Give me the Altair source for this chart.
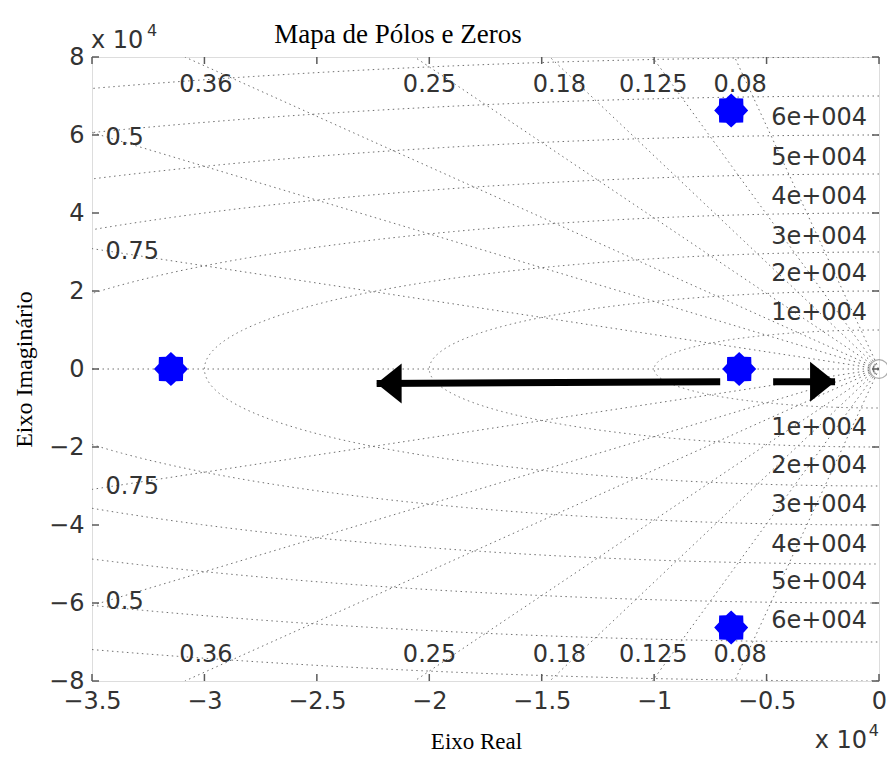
import altair as alt
import numpy as np
import pandas as pd

# ---------------- data ----------------
x_tick_vals = [-35000, -30000, -25000, -20000, -15000, -10000, -5000, 0]
y_tick_vals = [-80000, -60000, -40000, -20000, 0, 20000, 40000, 60000, 80000]

zeta_vals = [0.08, 0.125, 0.18, 0.25, 0.36, 0.5, 0.75]
wn_vals = [10000, 20000, 30000, 40000, 50000, 60000, 70000, 80000]

pole_re = [-31490, -6218, -6574, -6574]
pole_im = [0, 0, 66300, -66300]

zeta_lbl_text = ["0.36", "0.25", "0.18", "0.125", "0.08",
                 "0.36", "0.25", "0.18", "0.125", "0.08"]
zeta_lbl_x = [-29936, -19987, -14213, -10038, -6174,
              -29936, -19987, -14213, -10038, -6174]
zeta_lbl_y = [72800, 72800, 72800, 72800, 72800,
              -73300, -73300, -73300, -73300, -73300]

zeta_side_text = ["0.5", "0.75", "0.75", "0.5"]
zeta_side_x = [-34400, -34400, -34400, -34400]
zeta_side_y = [59230, 30000, -30255, -59740]

wn_lbl_text = ["6e+004", "5e+004", "4e+004", "3e+004", "2e+004", "1e+004",
               "1e+004", "2e+004", "3e+004", "4e+004", "5e+004", "6e+004"]
wn_lbl_x = [-4797] * 12
wn_lbl_y = [64360, 54100, 44100, 33845, 24360, 14360,
            -15130, -24870, -34870, -45130, -54610, -64610]

# hand-drawn arrows (start x, tip x, y at start, y at tip)
arrow_x = [-7062, -4708]
arrow_tip = [-22341, -1954]
arrow_y = [-3300, -3300]
arrow_tip_y = [-3700, -3300]

title_text = "Mapa de Pólos e Zeros"
x_title = "Eixo Real"
y_title = "Eixo Imaginário"

# ---------------- grid geometry ----------------
XMIN, XMAX, YMIN, YMAX = -35000, 0, -80000, 80000
rows = []
gid = 0
for z in zeta_vals:
    for s in (1, -1):
        dx, dy = -z, s * np.sqrt(1 - z * z)
        t = min(abs(XMIN / dx), abs(YMAX / dy))
        rows.append((gid, 0, 0.0, 0.0))
        rows.append((gid, 1, t * dx, t * dy))
        gid += 1
rows.append((gid, 0, 0.0, 0.0))
rows.append((gid, 1, float(XMIN), 0.0))
gid += 1
for r in wn_vals:
    if r > -XMIN:
        a0 = np.arccos(XMIN / r)          # angle where circle meets x = XMIN
        a1 = np.arcsin(min(1.0, YMAX / r))
        segs = [np.linspace(max(np.pi / 2, np.pi - a1), a0, 200),
                np.linspace(2 * np.pi - a0, min(3 * np.pi / 2, np.pi + a1), 200)]
    else:
        segs = [np.linspace(np.pi / 2, 3 * np.pi / 2, 600)]
    for seg in segs:
        for k, t in enumerate(seg):
            rows.append((gid, k, r * np.cos(t), r * np.sin(t)))
        gid += 1
grid_df = pd.DataFrame(rows, columns=["id", "k", "x", "y"])

xs = alt.Scale(domain=[XMIN, XMAX], nice=False, zero=False)
ys = alt.Scale(domain=[YMIN, YMAX], nice=False, zero=False)

W, H = 787, 624
SANS = "DejaVu Sans"
SERIF = "Liberation Serif"
TXT = "#333333"

lab_expr = "format(datum.value/10000, '')"
x_axis = alt.Axis(values=x_tick_vals, labelExpr=lab_expr, title=x_title,
                  domain=False, ticks=False, grid=False,
                  labelFont=SANS, labelFontSize=24, labelColor=TXT,
                  labelPadding=8, labelFlush=False, labelOverlap=False,
                  titleFont=SERIF, titleFontSize=23, titleFontWeight="normal",
                  titleColor="black", titlePadding=17, titleX=384)
y_axis = alt.Axis(values=y_tick_vals, labelExpr=lab_expr, title=y_title,
                  domain=False, ticks=False, grid=False,
                  labelFont=SANS, labelFontSize=24, labelColor=TXT,
                  labelPadding=8, labelFlush=False, labelOverlap=False,
                  titleFont=SERIF, titleFontSize=24, titleFontWeight="normal",
                  titleColor="black", titlePadding=12)


def X(f):
    return alt.X(f, scale=xs, axis=x_axis)


def Y(f):
    return alt.Y(f, scale=ys, axis=y_axis)


grid = alt.Chart(grid_df).mark_line(
    clip=True, strokeDash=[1.5, 3.5], color="#6e6e6e", strokeWidth=1
).encode(x=X("x:Q"), y=Y("y:Q"), detail="id:N", order="k:Q")

# inside ticks (MATLAB style) on all four sides
xt_df = pd.DataFrame({"x": x_tick_vals})
yt_df = pd.DataFrame({"y": y_tick_vals})
tick_style = dict(color="#5a5a5a", strokeWidth=1.5)
xt_bottom = alt.Chart(xt_df).mark_rule(**tick_style).encode(
    x=X("x:Q"), y=alt.value(H - 7), y2=alt.value(H))
xt_top = alt.Chart(xt_df).mark_rule(**tick_style).encode(
    x=X("x:Q"), y=alt.value(0), y2=alt.value(7))
yt_left = alt.Chart(yt_df).mark_rule(**tick_style).encode(
    y=Y("y:Q"), x=alt.value(0), x2=alt.value(7))
yt_right = alt.Chart(yt_df).mark_rule(**tick_style).encode(
    y=Y("y:Q"), x=alt.value(W - 7), x2=alt.value(W))

# labels
zl_df = pd.DataFrame({"t": zeta_lbl_text, "x": zeta_lbl_x, "y": zeta_lbl_y})
zeta_top = alt.Chart(zl_df).mark_text(
    font=SANS, fontSize=24, color=TXT, align="center", baseline="middle"
).encode(x=X("x:Q"), y=Y("y:Q"), text="t:N")

zs_df = pd.DataFrame({"t": zeta_side_text, "x": zeta_side_x, "y": zeta_side_y})
zeta_side = alt.Chart(zs_df).mark_text(
    font=SANS, fontSize=24, color=TXT, align="left", baseline="middle"
).encode(x=X("x:Q"), y=Y("y:Q"), text="t:N")

wl_df = pd.DataFrame({"t": wn_lbl_text, "x": wn_lbl_x, "y": wn_lbl_y})
wn_lbl = alt.Chart(wl_df).mark_text(
    font=SANS, fontSize=24, color=TXT, align="left", baseline="middle"
).encode(x=X("x:Q"), y=Y("y:Q"), text="t:N")

# small circle at origin
origin = alt.Chart(pd.DataFrame({"x": [0], "y": [0]})).mark_point(
    shape="circle", size=350, filled=False, color="#888888", strokeWidth=1.2
).encode(x=X("x:Q"), y=Y("y:Q"))

# arrows
ar_df = pd.DataFrame({"x": arrow_x, "x2": arrow_tip, "y": arrow_y, "y2": arrow_tip_y})
shafts = alt.Chart(ar_df).mark_rule(color="black", strokeWidth=7).encode(
    x=X("x:Q"), x2="x2:Q", y=Y("y:Q"), y2="y2:Q")
head_left = alt.Chart(ar_df.iloc[[0]]).mark_point(
    shape="M 0 0 L 1.25 -1 L 1.25 1 Z", size=1600, filled=True, color="black", opacity=1
).encode(x=X("x2:Q"), y=Y("y2:Q"))
head_right = alt.Chart(ar_df.iloc[[1]]).mark_point(
    shape="M 0 0 L -1.25 -1 L -1.25 1 Z", size=1600, filled=True, color="black", opacity=1
).encode(x=X("x2:Q"), y=Y("y2:Q"))

# poles: 8-point star
pts = []
for k in range(16):
    a = -np.pi / 2 + k * np.pi / 8
    rr = 1.0 if k % 2 == 0 else 0.78
    pts.append(f"{rr*np.cos(a):.4f} {rr*np.sin(a):.4f}")
star = "M " + " L ".join(pts) + " Z"
poles = alt.Chart(pd.DataFrame({"x": pole_re, "y": pole_im})).mark_point(
    shape=star, size=1156, filled=True, color="#0000ff", opacity=1
).encode(x=X("x:Q"), y=Y("y:Q"))

# title and exponent annotations, anchored to the plot corners
anch = pd.DataFrame({"x": [XMIN], "y": [YMAX]})
title_mark = alt.Chart(anch).mark_text(
    font=SERIF, fontSize=27, color="black", align="center", baseline="middle", dx=306, dy=-22
).encode(x=X("x:Q"), y=Y("y:Q"), text=alt.value(title_text))
exp_top = alt.Chart(anch).mark_text(
    font=SANS, fontSize=24, color=TXT, align="left", baseline="alphabetic", dx=-1, dy=-9
).encode(x=X("x:Q"), y=Y("y:Q"), text=alt.value("x 10"))
exp_top4 = alt.Chart(anch).mark_text(
    font=SANS, fontSize=16, color=TXT, align="left", baseline="alphabetic", dx=55, dy=-21
).encode(x=X("x:Q"), y=Y("y:Q"), text=alt.value("4"))
anch2 = pd.DataFrame({"x": [XMAX], "y": [YMIN]})
exp_bot = alt.Chart(anch2).mark_text(
    font=SANS, fontSize=24, color=TXT, align="right", baseline="alphabetic", dx=-12, dy=67
).encode(x=X("x:Q"), y=Y("y:Q"), text=alt.value("x 10"))
exp_bot4 = alt.Chart(anch2).mark_text(
    font=SANS, fontSize=16, color=TXT, align="right", baseline="alphabetic", dx=0, dy=55
).encode(x=X("x:Q"), y=Y("y:Q"), text=alt.value("4"))

chart = alt.layer(
    grid, xt_bottom, xt_top, yt_left, yt_right,
    zeta_top, zeta_side, wn_lbl, origin,
    shafts, head_left, head_right, poles,
    title_mark, exp_top, exp_top4, exp_bot, exp_bot4,
).properties(
    width=W, height=H,
    autosize=alt.AutoSizeParams(type="none"),
    padding={"left": 84, "top": 49, "right": 8, "bottom": 73},
).configure_view(
    stroke="#5a5a5a", strokeWidth=2
).configure(background="white")

chart.save("out.html", embed_options={"renderer": "svg", "actions": False})
